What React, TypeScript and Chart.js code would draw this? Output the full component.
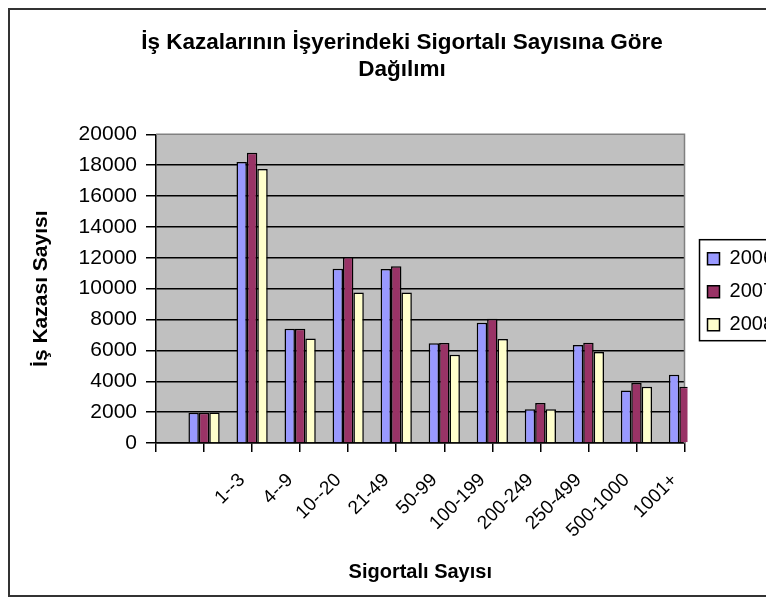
import React, { useEffect, useRef } from 'react';
import { Chart, registerables } from 'chart.js';

Chart.register(...registerables);

const FONT = "'Liberation Sans', Arial, sans-serif";

const categories = ['', '', '1--3', '4--9', '10--20', '21-49', '50-99', '100-199', '200-249', '250-499', '500-1000', '1001+'];
const seriesNames = ['2006', '2007', '2008'];
const values2006 = [null, 1960, 18200, 7400, 11300, 11280, 6470, 7800, 2200, 6350, 3400, 4420];
const values2007 = [null, 1970, 18800, 7400, 12050, 11450, 6480, 8050, 2600, 6500, 3900, 3650];
const values2008 = [null, 1980, 17750, 6780, 9750, 9750, 5720, 6750, 2200, 5900, 3650, 3500];
const yMin = 0;
const yMax = 20000;
const yStep = 2000;
const titleLines = ['İş Kazalarının İşyerindeki Sigortalı Sayısına Göre', 'Dağılımı'];
const xTitle = 'Sigortalı Sayısı';
const yTitle = 'İş Kazası Sayısı';
const seriesColors = ['#9999FF', '#993366', '#FFFFCC'];

const plotArea = {
  id: 'plotArea',
  beforeDraw(chart: any) {
    const { ctx, chartArea: a } = chart;
    ctx.save();
    ctx.fillStyle = '#C0C0C0';
    ctx.fillRect(a.left, a.top, a.right - a.left, a.bottom - a.top);
    ctx.restore();
  },
  beforeDatasetsDraw(chart: any) {
    const { ctx, chartArea: a } = chart;
    ctx.save();
    ctx.strokeStyle = '#808080';
    ctx.lineWidth = 1.5;
    ctx.beginPath();
    ctx.moveTo(a.left, a.top);
    ctx.lineTo(a.right, a.top);
    ctx.lineTo(a.right, a.bottom);
    ctx.stroke();
    ctx.restore();
  },
};

const legendFrame = {
  id: 'legendFrame',
  afterDraw(chart: any) {
    const boxes = chart.legend && chart.legend.legendHitBoxes;
    if (!boxes || !boxes.length) return;
    const { ctx } = chart;
    const first = boxes[0];
    const last = boxes[boxes.length - 1];
    let right = 0;
    boxes.forEach((b: any) => { right = Math.max(right, b.left + b.width); });
    ctx.save();
    ctx.strokeStyle = '#000';
    ctx.lineWidth = 1.5;
    ctx.strokeRect(first.left - 8, first.top - 9, right - first.left + 16, last.top + last.height - first.top + 15);
    ctx.restore();
  },
};

export default function App() {
  const ref = useRef<HTMLCanvasElement>(null);

  useEffect(() => {
    if (!ref.current) return;
    const series = [values2006, values2007, values2008];
    const chart = new Chart(ref.current, {
      type: 'bar',
      data: {
        labels: categories,
        datasets: series.map((vals, i) => ({
          label: seriesNames[i],
          data: vals,
          backgroundColor: seriesColors[i],
          borderColor: '#000',
          borderWidth: 1.5,
          categoryPercentage: 0.65,
          barPercentage: 1.0,
          clip: { left: 0, top: 0, right: 3, bottom: 0 },
        })),
      },
      options: {
        responsive: false,
        animation: false,
        layout: { padding: { left: 10, top: 8, right: 82, bottom: 5 } },
        plugins: {
          title: {
            display: true,
            text: titleLines,
            color: '#000',
            font: { family: FONT, size: 22.5, weight: 'bold', lineHeight: 1.2 },
            padding: { top: 11.5, bottom: 50.8 },
          },
          legend: {
            position: 'right',
            align: 'center',
            fullSize: false,
            title: { display: true, text: '', font: { size: 5 }, padding: 0 },
            labels: {
              boxWidth: 12,
              boxHeight: 12,
              padding: 13,
              color: '#000',
              font: { family: FONT, size: 20 },
            },
          },
          tooltip: { enabled: false },
        },
        scales: {
          x: {
            type: 'category',
            offset: false,
            grid: {
              offset: false,
              drawOnChartArea: false,
              drawTicks: true,
              tickLength: 9,
              color: '#000',
              lineWidth: 1.5,
            },
            border: { color: '#000', width: 1.5 },
            ticks: {
              autoSkip: false,
              maxRotation: 45,
              minRotation: 45,
              padding: 17,
              labelOffset: -10,
              color: '#000',
              font: { family: FONT, size: 19 },
            },
            title: {
              display: true,
              text: xTitle,
              color: '#000',
              font: { family: FONT, size: 20, weight: 'bold' },
              padding: { top: 1, bottom: 6 },
            },
          },
          y: {
            position: 'left',
            min: yMin,
            max: yMax,
            afterFit: (scale: any) => { scale.width = 136; },
            ticks: {
              stepSize: yStep,
              padding: 9,
              color: '#000',
              font: { family: FONT, size: 21 },
              callback: (v: any) => String(v),
            },
            grid: {
              color: (c: any) => (c.tick && c.tick.value === yMax ? 'rgba(0,0,0,0)' : '#000'),
              tickColor: '#000',
              tickLength: 10,
              lineWidth: 1.5,
            },
            border: { color: '#000', width: 1.5 },
            title: {
              display: true,
              text: yTitle,
              color: '#000',
              font: { family: FONT, size: 21, weight: 'bold' },
              padding: { top: 9, bottom: 20 },
            },
          },
          spacer: {
            type: 'linear',
            position: 'right',
            display: true,
            grid: { display: false },
            ticks: { display: false },
            border: { display: false },
            afterFit: (scale: any) => { scale.width = 10; },
          },
        },
      },
      plugins: [plotArea, legendFrame],
    });
    return () => chart.destroy();
  }, []);

  return (
    <div style={{ width: 766, height: 589, overflow: 'hidden' }}>
      <div style={{ width: 860, height: 589, border: '2px solid #333', boxSizing: 'border-box' }}>
        <canvas ref={ref} width={856} height={585} style={{ display: 'block' }} />
      </div>
    </div>
  );
}
